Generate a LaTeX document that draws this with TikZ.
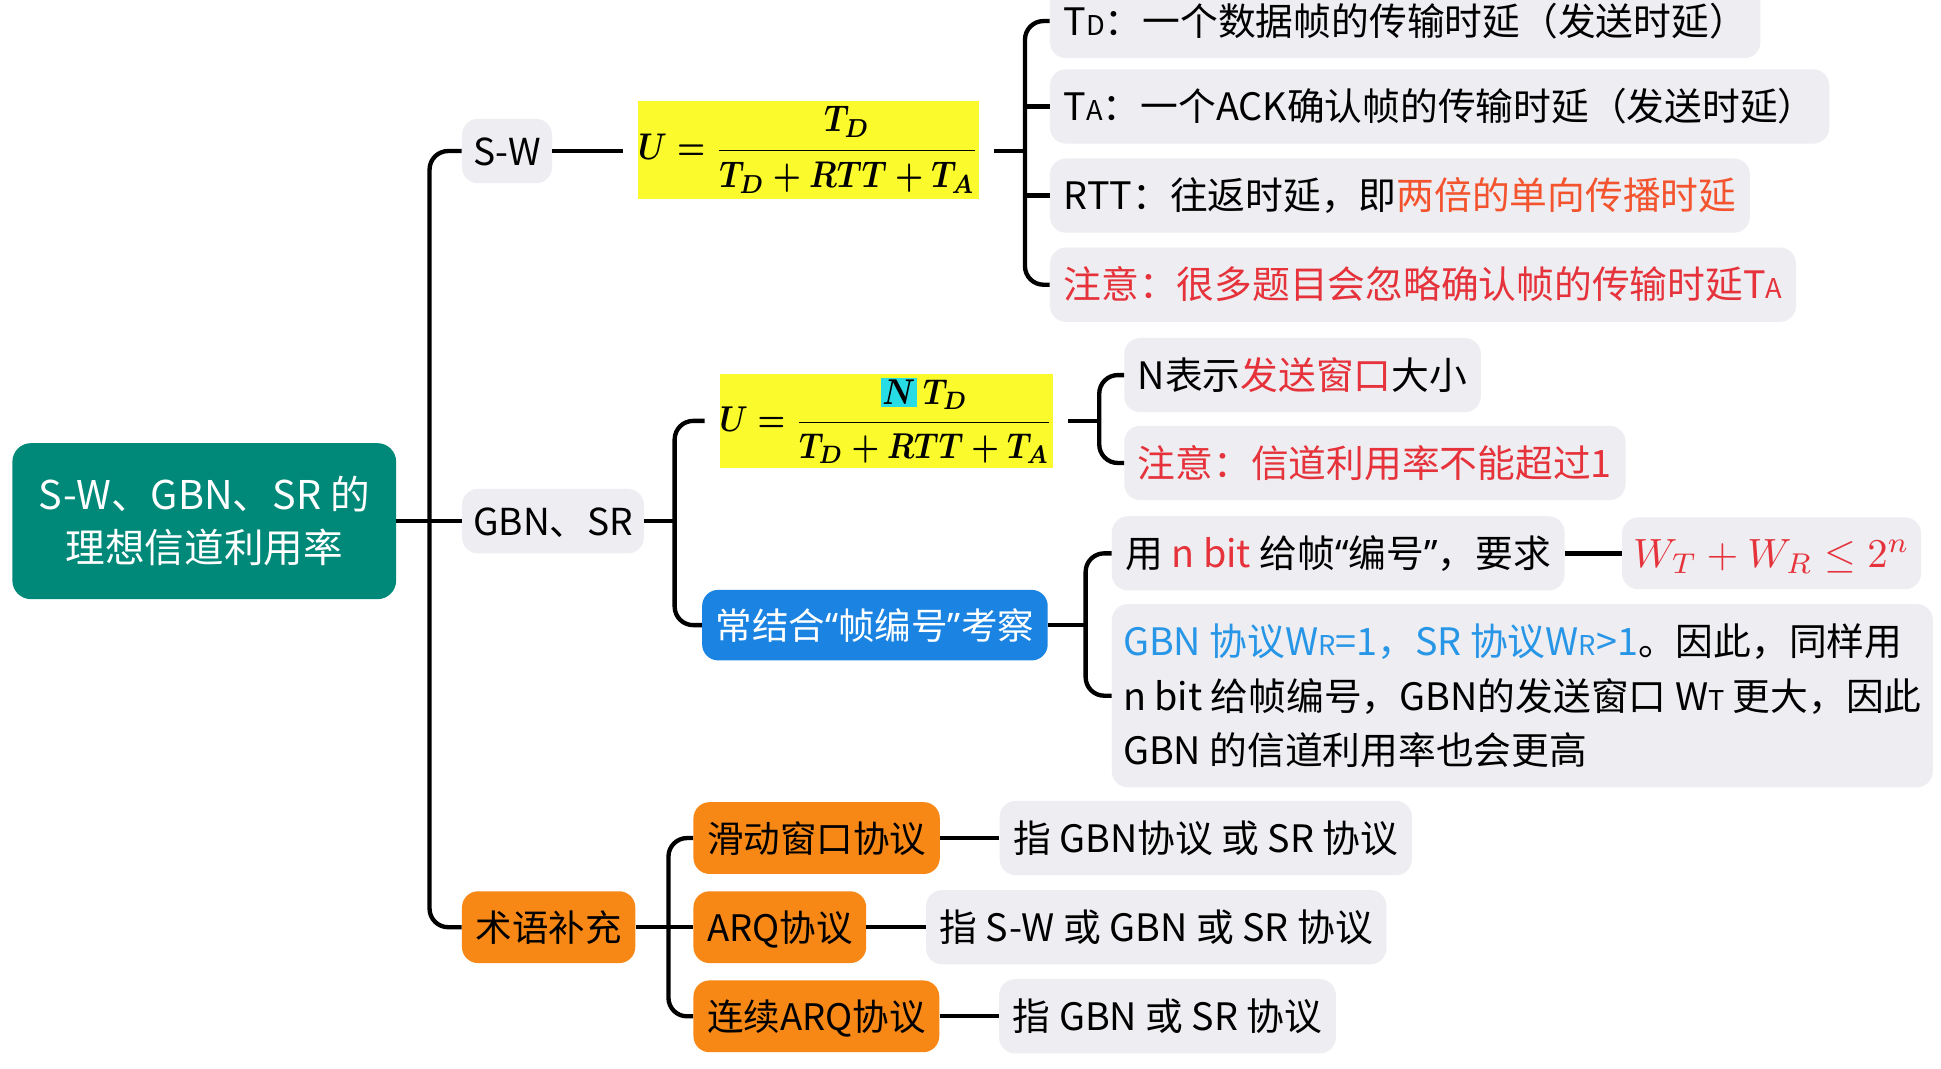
\documentclass[tikz,border=0pt]{standalone}
\usepackage{amsmath}
\usepackage{graphicx}
\usepackage[no-math]{fontspec}
\setmainfont{Noto Sans CJK SC}
\newfontfamily\qf{Noto Sans}
\usetikzlibrary{positioning,calc}
\definecolor{rootc}{RGB}{0,137,120}
\definecolor{gry}{RGB}{237,237,242}
\definecolor{orangec}{RGB}{247,136,22}
\definecolor{bluec}{RGB}{27,132,226}
\definecolor{ylw}{RGB}{250,250,45}
\definecolor{hl}{RGB}{40,220,230}
\definecolor{redc}{RGB}{230,50,58}
\definecolor{redo}{RGB}{243,83,45}
\definecolor{bluet}{RGB}{40,150,230}
\newcommand\smc[1]{{\fontsize{22}{22}\selectfont #1}}
\newcommand\qopen{{\qf “}}
\newcommand\qclose{{\qf ”}}
\tikzset{
 conn/.style={draw=black, line width=3.5pt},
 rc/.style={rounded corners=15pt},
 nodebase/.style={rounded corners=13pt, inner xsep=11pt, inner ysep=0pt, anchor=west, font=\fontsize{30.5}{36}\selectfont},
 oneline/.style={text height=25pt, text depth=2pt},
 leaf/.style={nodebase, oneline, fill=gry, minimum height=60pt},
 mainb/.style={nodebase, oneline, fill=gry, minimum height=52pt, inner xsep=9pt, font=\fontsize{30}{36}\selectfont},
 orangebox/.style={nodebase, oneline, fill=orangec, minimum height=58pt, font=\fontsize{29.5}{36}\selectfont},
 bluebox/.style={nodebase, oneline, fill=bluec, text=white, minimum height=57pt, font=\fontsize{29.5}{36}\selectfont},
 rootbox/.style={rounded corners=15pt, fill=rootc, text=white, align=center, minimum width=310pt, minimum height=126pt, font=\fontsize{32}{43}\selectfont},
 formbox/.style={fill=ylw, inner sep=0pt, outer xsep=12pt, font=\normalsize\boldmath},
}
\begin{document}
\begin{tikzpicture}[x=1pt,y=-1pt]
\fill[white] (0,0) rectangle (1568,863);
\useasboundingbox (0,0) rectangle (1568,863);

% root and main branches
\node[rootbox] (root) at (165,421) {S-W、GBN、SR 的\\理想信道利用率};
\node[mainb] (sw) at (373,122) {S-W};
\node[mainb] (gbn) at (373,421) {GBN、SR};
\node[orangebox] (term) at (373,749) {术语补充};
\coordinate (j) at (347,421);
\draw[conn,rc] (sw.west) -| (j) |- (term.west);
\draw[conn] (root.east) -- (gbn.west);

% S-W branch
\node[formbox, minimum width=276pt, minimum height=79pt] (f1) at (653,121) {\scalebox{2.55}[3.0]{$\displaystyle U=\frac{T_D}{T_D+RTT+T_A}$}};
\draw[conn] (sw.east) -- (sw.east -| f1.west);
\node[leaf] (c1) at (848,17) {T\smc{D}：一个数据帧的传输时延（发送时延）};
\node[leaf] (c2) at (848,86) {T\smc{A}：一个ACK确认帧的传输时延（发送时延）};
\node[leaf] (c3) at (848,158) {RTT：往返时延，即\textcolor{redo}{两倍的单向传播时延}};
\node[leaf, text=redc] (c4) at (848,230) {注意：很多题目会忽略确认帧的传输时延T\smc{A}};
\coordinate (b1) at (828,122);
\draw[conn] (b1 -| f1.east) -- (b1);
\draw[conn,rc] (c1.west) -| (b1) |- (c4.west);
\draw[conn] (c2.west) -- (c2.west -| b1);
\draw[conn] (c3.west) -- (c3.west -| b1);

% GBN SR branch
\node[formbox, minimum width=266pt, minimum height=76pt] (f2) at (716,340) {\scalebox{2.5}[2.9]{$\displaystyle U=\frac{\mbox{\fboxsep=0.6pt\colorbox{hl}{$N$}}\,T_D}{T_D+RTT+T_A}$}};
\node[bluebox] (blue) at (567,505) {常结合\qopen 帧编号\qclose 考察};
\coordinate (b2) at (545,421);
\draw[conn] (gbn.east) -- (b2);
\draw[conn,rc] (f2.west) -| (b2) |- (blue.west);

\node[leaf] (g1) at (908,303) {N表示\textcolor{redc}{发送窗口}大小};
\node[leaf, text=redc] (g2) at (908,374) {注意：信道利用率不能超过1};
\coordinate (b3) at (888,340);
\draw[conn] (f2.east) -- (b3);
\draw[conn,rc] (g1.west) -| (b3) |- (g2.west);

\node[leaf] (h1) at (898,447) {用 \textcolor{redc}{n bit} 给帧\qopen 编号\qclose，要求};
\node[leaf, inner xsep=9pt, minimum height=58pt, right=46pt of h1] (h1b) {\color{redc}\scalebox{3.3}{\normalsize$W_T+W_R\leq 2^n$}};
\draw[conn] (h1.east) -- (h1b.west);
\node[nodebase, fill=gry, align=left, font=\fontsize{30.5}{44}\selectfont, minimum height=148pt, inner xsep=9pt] (h2) at (898,562) {\textcolor{bluet}{GBN 协议W\smc{R}=1，SR 协议W\smc{R}>1}。因此，同样用\\n bit 给帧编号，GBN的发送窗口 W\smc{T} 更大，因此\\GBN 的信道利用率也会更高};
\coordinate (b4) at (877,505);
\draw[conn] (blue.east) -- (b4);
\draw[conn,rc] (h1.west) -| (b4) |- (h2.west);

% terms branch
\node[orangebox] (o1) at (560,677) {滑动窗口协议};
\node[orangebox] (o2) at (560,749) {ARQ协议};
\node[orangebox] (o3) at (560,821) {连续ARQ协议};
\coordinate (b5) at (540,749);
\draw[conn] (term.east) -- (o2.west);
\draw[conn,rc] (o1.west) -| (b5) |- (o3.west);
\node[leaf, right=48pt of o1] (p1) {指 GBN协议 或 SR 协议};
\node[leaf, right=48pt of o2] (p2) {指 S-W 或 GBN 或 SR 协议};
\node[leaf, right=48pt of o3] (p3) {指 GBN 或 SR 协议};
\draw[conn] (o1.east) -- (p1.west);
\draw[conn] (o2.east) -- (p2.west);
\draw[conn] (o3.east) -- (p3.west);
\end{tikzpicture}
\end{document}
